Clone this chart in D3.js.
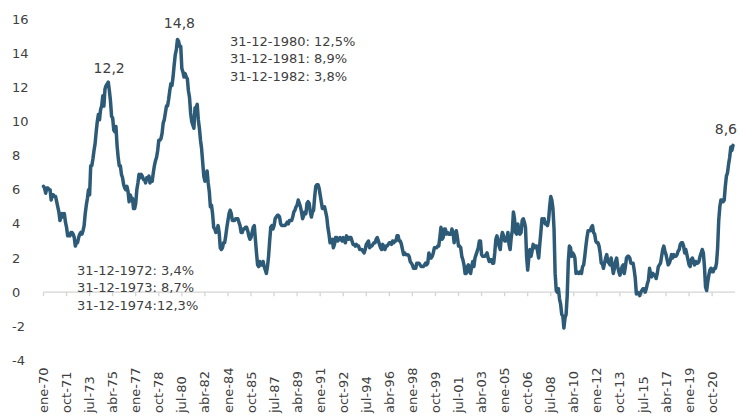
<!DOCTYPE html>
<html>
<head>
<meta charset="utf-8">
<script src="https://cdn.jsdelivr.net/npm/d3@7"></script>
<style>
  body { margin: 0; background: #fff; }
  text { font-family: "Century Gothic", "DejaVu Sans", sans-serif; fill: #404040; }
</style>
</head>
<body>
<svg id="chart" width="738" height="420"></svg>
<script>
// monthly year-on-year inflation, jan-1970 .. may-2022
const START_YEAR = 1970
const inflation = [
  6.2, 6.1, 5.8, 6.1, 6.1, 6.0, 6.0, 5.4, 5.7, 5.7, 5.6, 5.6,
  5.3, 5.0, 4.7, 4.2, 4.4, 4.6, 4.4, 4.6, 4.1, 3.8, 3.3, 3.3,
  3.3, 3.5, 3.5, 3.4, 3.2, 2.7, 2.9, 2.9, 3.2, 3.4, 3.5, 3.4,
  3.6, 3.9, 4.6, 5.1, 5.5, 6.0, 5.7, 7.4, 7.4, 7.8, 8.3, 8.7,
  9.4, 10.0, 10.4, 10.1, 10.7, 10.9, 11.5, 10.9, 11.9, 12.1, 12.2, 12.3,
  11.8, 11.2, 10.3, 10.2, 9.5, 9.4, 9.7, 8.6, 7.9, 7.4, 7.4, 6.9,
  6.7, 6.3, 6.1, 6.0, 6.2, 5.9, 5.3, 5.7, 5.5, 5.5, 4.9, 4.9,
  5.2, 6.0, 6.4, 6.9, 6.7, 6.9, 6.8, 6.6, 6.6, 6.4, 6.7, 6.7,
  6.8, 6.4, 6.6, 6.5, 7.0, 7.4, 7.7, 7.9, 8.3, 8.9, 8.9, 9.0,
  9.3, 9.9, 10.1, 10.5, 10.9, 10.9, 11.3, 11.8, 12.2, 12.1, 12.6, 13.3,
  13.9, 14.2, 14.8, 14.7, 14.4, 14.4, 13.1, 12.9, 12.6, 12.8, 12.6, 12.5,
  11.8, 11.4, 10.5, 10.0, 9.8, 9.6, 10.8, 10.8, 11.0, 10.1, 9.6, 8.9,
  8.4, 7.6, 6.8, 6.5, 6.7, 7.1, 6.4, 5.9, 5.0, 5.1, 4.6, 3.8,
  3.7, 3.5, 3.6, 3.9, 3.5, 2.6, 2.5, 2.6, 2.9, 2.9, 3.3, 3.8,
  4.2, 4.6, 4.8, 4.6, 4.2, 4.2, 4.2, 4.3, 4.3, 4.3, 4.1, 3.9,
  3.5, 3.5, 3.7, 3.7, 3.8, 3.8, 3.6, 3.3, 3.1, 3.2, 3.5, 3.8,
  3.9, 3.1, 2.3, 1.6, 1.5, 1.8, 1.6, 1.6, 1.8, 1.5, 1.3, 1.1,
  1.5, 2.1, 3.0, 3.8, 3.9, 3.7, 3.9, 4.3, 4.4, 4.5, 4.5, 4.4,
  4.0, 3.9, 3.9, 3.9, 3.9, 4.0, 4.1, 4.0, 4.2, 4.2, 4.2, 4.4,
  4.7, 4.8, 5.0, 5.1, 5.4, 5.2, 5.0, 4.7, 4.3, 4.5, 4.7, 4.6,
  5.2, 5.3, 5.2, 4.7, 4.4, 4.7, 4.8, 5.6, 6.2, 6.3, 6.3, 6.1,
  5.7, 5.3, 4.9, 4.9, 5.0, 4.7, 4.4, 3.8, 3.4, 2.9, 3.0, 3.1,
  2.6, 2.8, 3.2, 3.2, 3.0, 3.1, 3.2, 3.1, 3.0, 3.2, 3.0, 2.9,
  3.3, 3.2, 3.1, 3.2, 3.2, 3.0, 2.8, 2.8, 2.7, 2.8, 2.7, 2.7,
  2.5, 2.5, 2.5, 2.4, 2.3, 2.5, 2.8, 2.9, 3.0, 2.6, 2.7, 2.7,
  2.8, 2.9, 2.9, 3.1, 3.2, 3.0, 2.8, 2.6, 2.5, 2.8, 2.6, 2.5,
  2.7, 2.7, 2.8, 2.9, 2.9, 2.8, 3.0, 2.9, 3.0, 3.0, 3.3, 3.3,
  3.0, 3.0, 2.8, 2.5, 2.2, 2.3, 2.2, 2.2, 2.2, 2.1, 1.8, 1.7,
  1.6, 1.4, 1.4, 1.4, 1.7, 1.7, 1.7, 1.6, 1.5, 1.5, 1.5, 1.6,
  1.7, 1.6, 1.7, 2.3, 2.1, 2.0, 2.1, 2.3, 2.6, 2.6, 2.6, 2.7,
  2.7, 3.2, 3.8, 3.1, 3.2, 3.7, 3.7, 3.4, 3.5, 3.4, 3.4, 3.4,
  3.7, 3.5, 2.9, 3.3, 3.6, 3.2, 2.7, 2.7, 2.6, 2.1, 1.9, 1.6,
  1.1, 1.1, 1.5, 1.6, 1.2, 1.1, 1.5, 1.8, 1.5, 2.0, 2.2, 2.4,
  2.6, 3.0, 3.0, 2.2, 2.1, 2.1, 2.1, 2.2, 2.3, 2.0, 1.8, 1.9,
  1.9, 1.7, 1.7, 2.3, 3.1, 3.3, 3.0, 2.7, 2.5, 3.2, 3.5, 3.3,
  3.0, 3.0, 3.1, 3.5, 2.8, 2.5, 3.2, 3.6, 4.7, 4.3, 3.5, 3.4,
  4.0, 3.6, 3.4, 3.5, 4.2, 4.3, 4.1, 3.8, 2.1, 1.3, 2.0, 2.5,
  2.1, 2.4, 2.8, 2.6, 2.7, 2.7, 2.4, 2.0, 2.8, 3.5, 4.3, 4.1,
  4.3, 4.0, 4.0, 3.9, 4.2, 5.0, 5.6, 5.4, 4.9, 3.7, 1.1, 0.1,
  0.0, 0.2, -0.4, -0.7, -1.3, -1.4, -2.1, -1.5, -1.3, -0.2, 1.8, 2.7,
  2.6, 2.1, 2.3, 2.2, 2.0, 1.1, 1.2, 1.1, 1.1, 1.2, 1.1, 1.5,
  1.6, 2.1, 2.7, 3.2, 3.6, 3.6, 3.6, 3.8, 3.9, 3.5, 3.4, 3.0,
  2.9, 2.9, 2.7, 2.3, 1.7, 1.7, 1.4, 1.7, 2.0, 2.2, 1.8, 1.7,
  1.6, 2.0, 1.5, 1.1, 1.4, 1.8, 2.0, 1.5, 1.2, 1.0, 1.2, 1.5,
  1.6, 1.1, 1.5, 2.0, 2.1, 2.1, 2.0, 1.7, 1.7, 1.7, 1.3, 0.8,
  -0.1, 0.0, -0.1, -0.2, 0.0, 0.1, 0.2, 0.2, 0.0, 0.2, 0.5, 0.7,
  1.4, 1.0, 0.9, 1.1, 1.0, 1.0, 0.8, 1.1, 1.5, 1.6, 1.7, 2.1,
  2.5, 2.7, 2.4, 2.2, 1.9, 1.6, 1.7, 1.9, 2.2, 2.0, 2.2, 2.1,
  2.1, 2.2, 2.4, 2.5, 2.8, 2.9, 2.9, 2.7, 2.3, 2.5, 2.2, 1.9,
  1.6, 1.5, 1.9, 2.0, 1.8, 1.6, 1.8, 1.7, 1.7, 1.8, 2.1, 2.3,
  2.5, 2.3, 1.5, 0.3, 0.1, 0.6, 1.0, 1.3, 1.4, 1.2, 1.2, 1.4,
  1.4, 1.7, 2.6, 4.2, 5.0, 5.4, 5.4, 5.3, 5.4, 6.2, 6.8, 7.0,
  7.5, 7.9, 8.5, 8.3, 8.6
]
const MONTHS = ["ene", "feb", "mar", "abr", "may", "jun", "jul", "ago", "sep", "oct", "nov", "dic"]
const LABEL_STEP = 21
const yTicks = [-4, -2, 0, 2, 4, 6, 8, 10, 12, 14, 16]
const peaks = [
  { idx: 58, label: "12,2" },
  { idx: 122, label: "14,8" },
  { idx: 628, label: "8,6" }
]
const note1980 = ["31-12-1980: 12,5%", "31-12-1981: 8,9%", "31-12-1982: 3,8%"]
const note1972 = ["31-12-1972: 3,4%", "31-12-1973: 8,7%", "31-12-1974:12,3%"]

const LINE_COLOR = "#2d5a77"
const AXIS_COLOR = "#d4d4d4"

const svg = d3.select("#chart")

const x = d3.scaleLinear().domain([0, inflation.length - 1]).range([43.5, 733])
const y = d3.scaleLinear().domain([-4, 16]).range([360.5, 19])

function monthLabel(i) {
  const yr = START_YEAR + Math.floor(i / 12)
  return MONTHS[i % 12] + "-" + String(yr % 100).padStart(2, "0")
}

// y tick labels (no axis line)
svg.append("g")
  .selectAll("text")
  .data(yTicks)
  .enter()
  .append("text")
  .attr("x", 12)
  .attr("y", d => y(d))
  .attr("dy", "0.35em")
  .style("font-size", "13px")
  .text(d => d);

// zero axis with ticks
const tickIdx = d3.range(0, inflation.length, LABEL_STEP)
svg.append("line")
  .attr("x1", x(0)).attr("x2", 735)
  .attr("y1", y(0)).attr("y2", y(0))
  .attr("stroke", AXIS_COLOR)
  .attr("stroke-width", 1.3);

svg.append("g")
  .selectAll("line")
  .data(tickIdx)
  .enter()
  .append("line")
  .attr("x1", d => x(d)).attr("x2", d => x(d))
  .attr("y1", y(0)).attr("y2", y(0) + 4)
  .attr("stroke", AXIS_COLOR)
  .attr("stroke-width", 1.3);

// x labels, rotated
svg.append("g")
  .selectAll("text")
  .data(tickIdx)
  .enter()
  .append("text")
  .attr("transform", d => "translate(" + x(d) + ",413) rotate(-90)")
  .attr("dy", "0.35em")
  .style("font-size", "13px")
  .text(d => monthLabel(d));

// series
svg.append("path")
  .datum(inflation)
  .attr("d", d3.line().x((d, i) => x(i)).y(d => y(d)))
  .attr("fill", "none")
  .attr("stroke", LINE_COLOR)
  .attr("stroke-width", 3.5)
  .attr("stroke-linejoin", "round")
  .attr("stroke-linecap", "round");

// peak labels (last one pushed inside the right edge)
const lastIdx = inflation.length - 1
svg.append("g")
  .selectAll("text")
  .data(peaks)
  .enter()
  .append("text")
  .attr("x", d => d.idx === lastIdx ? 737 : x(d.idx) + 2)
  .attr("y", d => y(inflation[d.idx]) - 11)
  .attr("text-anchor", d => d.idx === lastIdx ? "end" : "middle")
  .style("font-size", "14px")
  .text(d => d.label);

function note(lines, x0, y0) {
  svg.append("g")
    .selectAll("text")
    .data(lines)
    .enter()
    .append("text")
    .attr("x", x0)
    .attr("y", (d, i) => y0 + i * 17.3)
    .style("font-size", "13px")
    .text(d => d);
}
note(note1980, 230, 46)
note(note1972, 77, 275)
</script>
</body>
</html>
